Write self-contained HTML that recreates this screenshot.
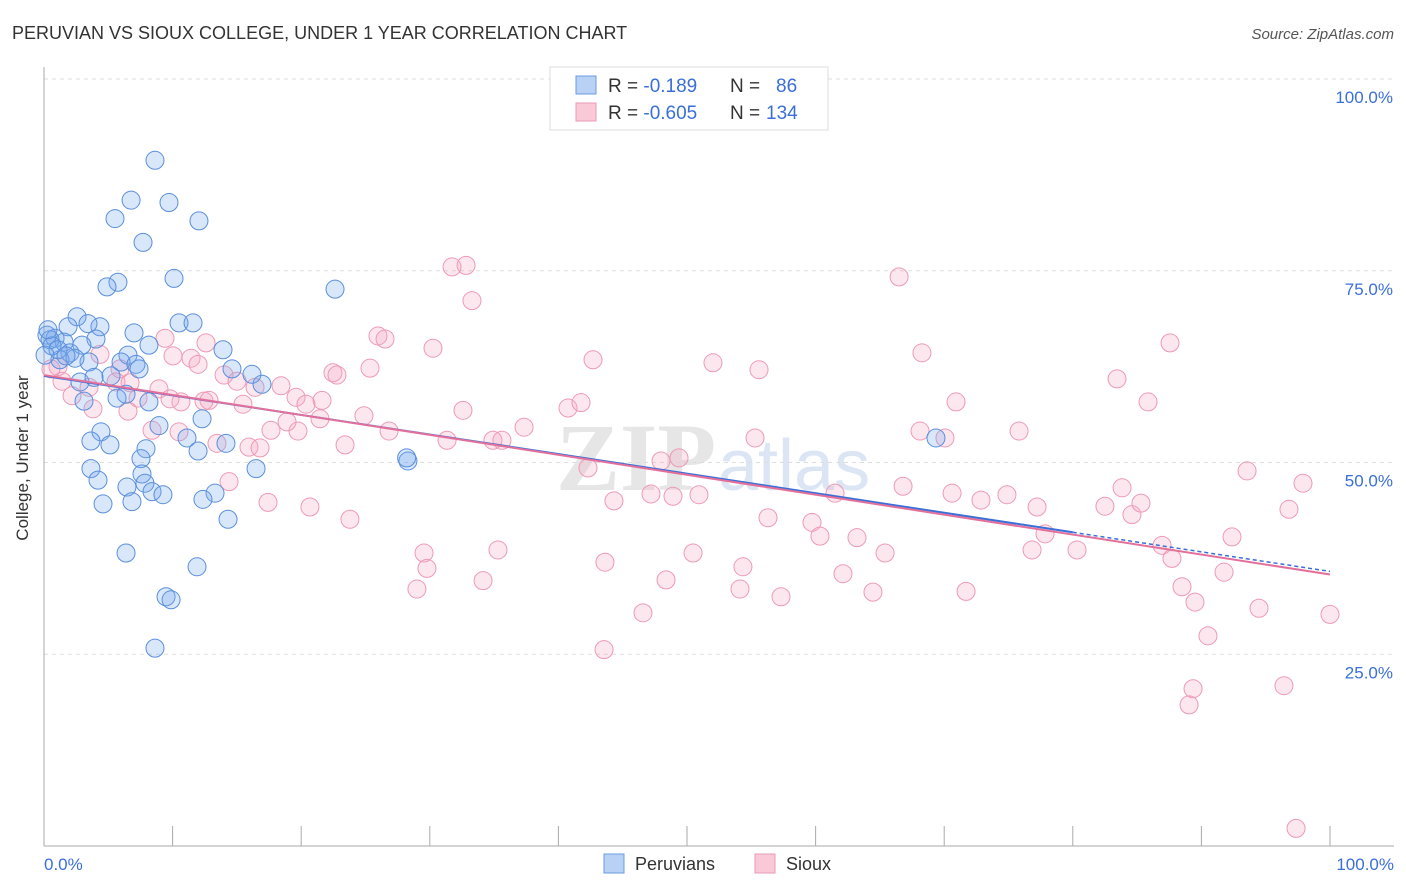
<!DOCTYPE html>
<html><head><meta charset="utf-8"><style>
body{margin:0;background:#fff;font-family:"Liberation Sans",sans-serif;}
#wrap{position:relative;width:1406px;height:892px;overflow:hidden}
</style></head><body><div id="wrap">
<svg id="svg" width="1406" height="892" xmlns="http://www.w3.org/2000/svg" font-family="Liberation Sans, sans-serif">
<text x="12" y="39" font-size="18" fill="#333">PERUVIAN VS SIOUX COLLEGE, UNDER 1 YEAR CORRELATION CHART</text>
<text x="1394" y="39" font-size="15" fill="#555" font-style="italic" text-anchor="end">Source: ZipAtlas.com</text>
<text x="716" y="490" font-size="96" fill="#e6e6e6" text-anchor="end" font-family="Liberation Serif, serif" font-weight="bold">ZIP</text>
<text x="718" y="490" font-size="72" fill="#dbe5f4">atlas</text>
<g id="grid"></g><g id="axes"></g><g id="pts"></g><g id="trend"></g>
<text x="28" y="458" font-size="17" fill="#333" transform="rotate(-90 28 458)" text-anchor="middle">College, Under 1 year</text>
<text x="44" y="870" font-size="17" fill="#3a6fd8">0.0%</text>
<text x="1394" y="870" font-size="17" fill="#3a6fd8" text-anchor="end">100.0%</text>
<g>
<rect x="550" y="67" width="278" height="63" fill="#fff" stroke="#ddd"/>
<rect x="576" y="76" width="20" height="18" fill="#b9d1f5" stroke="#6b9be0"/>
<rect x="576" y="103" width="20" height="18" fill="#f9c9d8" stroke="#eb9ab4"/>
<text x="608" y="92" font-size="19" fill="#333">R = <tspan fill="#3a6fd8">-0.189</tspan><tspan x="730">N = </tspan><tspan x="776" fill="#3a6fd8">86</tspan></text>
<text x="608" y="119" font-size="19" fill="#333">R = <tspan fill="#3a6fd8">-0.605</tspan><tspan x="730">N = </tspan><tspan x="766" fill="#3a6fd8">134</tspan></text>
</g>
<g>
<rect x="604" y="854" width="20" height="19" fill="#b9d1f5" stroke="#6b9be0"/>
<text x="635" y="870" font-size="18" fill="#333">Peruvians</text>
<rect x="755" y="854" width="20" height="19" fill="#f9c9d8" stroke="#eb9ab4"/>
<text x="786" y="870" font-size="18" fill="#333">Sioux</text>
</g>
</svg></div>
<script>
const blueX=[8.63,6.77,9.72,5.52,12.05,7.70,10.11,5.75,4.90,22.63,2.57,1.87,4.35,3.42,10.50,11.59,0.23,0.86,7.00,8.16,4.04,2.95,1.56,13.92,2.02,6.53,1.24,3.50,5.99,7.15,7.39,14.62,2.80,5.21,16.95,16.17,3.89,6.38,5.68,8.16,3.11,12.29,4.43,8.94,3.65,5.13,11.12,14.15,7.93,11.98,7.54,16.49,3.65,28.30,28.2,4.20,7.62,7.85,6.45,8.40,9.25,13.30,12.36,4.59,6.84,14.31,6.38,11.90,9.49,9.88,8.63,69.36,0.47,0.62,0.31,1.09,2.41,1.71,0.08];
const blueY=[89.4,84.2,83.9,81.8,81.5,78.7,74.0,73.5,72.9,72.6,69.0,67.7,67.7,68.1,68.2,68.2,66.6,66.2,66.9,65.3,66.1,65.3,65.7,64.7,64.3,64.0,63.4,63.1,63.1,62.8,62.2,62.2,60.5,61.3,60.2,61.5,61.1,58.9,58.4,57.9,58.0,55.7,54.0,54.8,52.8,52.3,53.2,52.5,51.8,51.5,50.5,49.2,49.2,50.2,50.6,47.7,48.5,47.3,46.8,46.2,45.8,46.0,45.2,44.6,44.9,42.6,38.2,36.4,32.5,32.1,25.8,53.2,66.0,65.2,67.3,64.7,63.6,63.9,64.0];
const pinkX=[32.82,31.73,66.49,33.28,87.56,25.97,26.52,30.25,68.27,42.69,52.02,55.60,25.35,22.47,22.78,83.44,85.85,70.92,9.41,11.43,10.03,11.98,12.60,4.35,5.91,5.60,1.09,1.40,3.50,2.18,3.81,6.69,8.94,14.00,15.01,16.41,18.43,19.60,21.62,20.37,15.47,12.83,10.65,7.31,6.53,8.40,10.50,13.45,15.94,16.80,17.65,18.90,19.75,21.46,23.41,24.88,26.83,32.58,31.34,34.91,35.61,37.33,40.75,41.76,42.30,44.32,47.20,48.91,50.93,47.98,49.38,55.29,56.30,59.72,60.34,63.22,61.51,65.40,66.80,68.12,70.06,70.61,72.86,74.88,75.82,77.22,77.84,76.83,80.33,82.50,83.83,84.60,85.30,86.94,87.71,88.49,89.50,90.51,89.35,89.04,91.76,92.38,93.55,94.48,96.81,97.90,96.42,100.0,97.36,29.55,29.78,29.00,34.14,35.30,43.62,43.55,46.58,48.37,50.47,54.12,54.35,57.31,62.13,64.46,71.70,20.68,23.79,17.42,14.39,0.54,9.80,12.44];
const pinkY=[75.7,75.5,74.2,71.1,65.6,66.5,66.1,64.9,64.3,63.4,63.0,62.1,62.3,61.7,61.4,60.9,57.9,57.9,66.2,63.6,63.9,62.8,65.6,64.1,62.2,60.5,62.5,60.6,59.8,58.7,57.0,60.4,59.6,61.4,60.6,59.8,60.0,58.5,58.1,57.6,57.6,58.1,57.9,58.4,56.7,54.2,54.0,52.5,52.0,51.9,54.2,55.3,54.1,55.7,52.3,56.1,54.1,56.8,52.9,52.9,52.9,54.6,57.1,57.8,49.3,45.0,45.9,45.6,45.8,50.2,50.6,53.2,42.8,42.2,40.4,40.2,46.0,38.2,46.9,54.1,53.2,46.0,45.1,45.8,54.1,44.2,40.7,38.6,38.6,44.3,46.7,43.2,44.7,39.2,37.5,33.8,31.8,27.4,20.5,18.4,35.7,40.3,48.9,31.0,43.9,47.3,20.9,30.2,2.3,38.2,36.2,33.5,34.6,38.6,37.0,25.6,30.4,34.7,38.2,33.5,36.4,32.5,35.5,33.1,33.2,44.2,42.6,44.8,47.5,62.2,58.3,58.0];
const blueTrend=[61.3,40.9];   // y at x=0 and x=80
const pinkTrend=[61.4,35.4];   // y at x=0 and x=100
const yTicks=[100,75,50,25];
const yTickLabels=["100.0%","75.0%","50.0%","25.0%"];
const xTicks=[0,10,20,30,40,50,60,70,80,90,100];
const sx=v=>44+v*12.86, sy=v=>846-v*7.67;
const NS="http://www.w3.org/2000/svg";
function mk(tag,attrs,parent){const e=document.createElementNS(NS,tag);for(const k in attrs)e.setAttribute(k,attrs[k]);parent.appendChild(e);return e;}
const grid=document.getElementById('grid'),axes=document.getElementById('axes'),pts=document.getElementById('pts'),tr=document.getElementById('trend');
yTicks.forEach((t,i)=>{
 const l=mk('line',{x1:44,x2:1394,y1:sy(t),y2:sy(t),stroke:'#ddd','stroke-dasharray':'4,4'},grid);
 
 
 const tx=mk('text',{x:1393,y:sy(t)+24,'font-size':17,fill:'#3a6fd8','text-anchor':'end'},grid);
 tx.textContent=yTickLabels[i];
 
 
});
const ya=mk('line',{x1:44,x2:44,y1:67,y2:846,stroke:'#aaa'},axes);


const xa=mk('line',{x1:44,x2:1394,y1:846,y2:846,stroke:'#aaa'},axes);


xTicks.forEach(t=>{
 const l=mk('line',{x1:sx(t),x2:sx(t),y1:826,y2:846,stroke:'#aaa'},axes);
 
 
});
function dots(X,Y,fill,stroke,name){
 X.forEach((x,i)=>{
  const c=mk('circle',{cx:sx(x),cy:sy(Y[i]),r:9,fill:fill,stroke:stroke,'stroke-width':1},pts);
  
  
 });
}
dots(pinkX,pinkY,'rgba(246,170,196,0.28)','#ee9ab5','sioux-point');
dots(blueX,blueY,'rgba(120,168,238,0.28)','#5a8fdc','peruvian-point');
const bslope=(blueTrend[1]-blueTrend[0])/80;
const b1=mk('line',{x1:sx(0),y1:sy(blueTrend[0]),x2:sx(80),y2:sy(blueTrend[1]),stroke:'#3a6fd8','stroke-width':2},tr);


const b2=mk('line',{x1:sx(80),y1:sy(blueTrend[1]),x2:sx(100),y2:sy(blueTrend[0]+bslope*100),stroke:'#3a6fd8','stroke-width':1.5,'stroke-dasharray':'4,3'},tr);


const p1=mk('line',{x1:sx(0),y1:sy(pinkTrend[0]),x2:sx(100),y2:sy(pinkTrend[1]),stroke:'#e3709a','stroke-width':2},tr);


</script></body></html>
